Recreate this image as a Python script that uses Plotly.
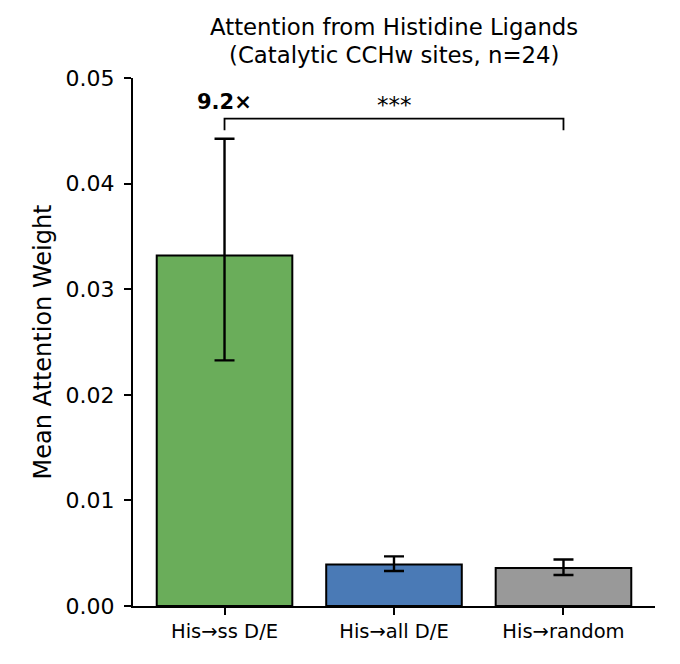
import plotly.graph_objects as go

categories = ["His→ss D/E", "His→all D/E", "His→random"]
means = [0.0332, 0.00394, 0.0036]
errors_plus = [0.01105, 0.00076, 0.00081]
errors_minus = [0.00994, 0.00063, 0.00066]
colors = ["#6aad5a", "#4a7ab6", "#999999"]
y_ticks = [0.0, 0.01, 0.02, 0.03, 0.04, 0.05]
y_tick_labels = ["0.00", "0.01", "0.02", "0.03", "0.04", "0.05"]
title_lines = ["Attention from Histidine Ligands", "(Catalytic CCHw sites, n=24)"]

FONT = "DejaVu Sans"

fig = go.Figure()
fig.add_trace(go.Bar(
    x=categories, y=means,
    marker=dict(color=colors, line=dict(color="black", width=2)),
    width=0.8,
    error_y=dict(type="data", symmetric=False, array=errors_plus, arrayminus=errors_minus,
                 visible=True, color="black", thickness=2.4, width=10),
    showlegend=False,
))

# significance bracket between first and last bars
top = means[0] + errors_plus[0]
br_y = top * 1.043
br_drop = top * 1.018
fig.add_trace(go.Scatter(
    x=[categories[0], categories[0], categories[2], categories[2]],
    y=[br_drop, br_y, br_y, br_drop],
    mode="lines", line=dict(color="black", width=1.8),
    showlegend=False, hoverinfo="skip",
))

ratio = means[0] / means[2]
fig.add_annotation(x=categories[0], y=0.0477, text=f"<b>{ratio:.1f}×</b>",
                   showarrow=False, font=dict(family=FONT, size=21, color="black"))
fig.add_annotation(x=categories[1], y=0.0474, text="***",
                   showarrow=False, font=dict(family=FONT, size=23, color="black"))

# two-line title
fig.add_annotation(xref="paper", yref="paper", x=0.5, y=1.0966, text=title_lines[0],
                   showarrow=False, xanchor="center", yanchor="middle",
                   font=dict(family=FONT, size=22.8, color="black"))
fig.add_annotation(xref="paper", yref="paper", x=0.5, y=1.0445, text=title_lines[1],
                   showarrow=False, xanchor="center", yanchor="middle",
                   font=dict(family=FONT, size=22.8, color="black"))

fig.update_layout(
    width=672, height=656,
    margin=dict(l=125, r=25, t=70, b=58),
    paper_bgcolor="white", plot_bgcolor="white",
    font=dict(family=FONT, color="black"),
)
fig.update_xaxes(
    type="category", range=[-0.54, 2.54],
    showline=True, linecolor="black", linewidth=2,
    ticks="outside", ticklen=7, tickwidth=2, tickcolor="black",
    tickfont=dict(family=FONT, size=19.5, color="black"),
    showgrid=False, zeroline=False,
)
fig.update_yaxes(
    range=[0, 0.05], tickvals=y_ticks, ticktext=y_tick_labels,
    showline=True, linecolor="black", linewidth=2,
    ticks="outside", ticklen=7, tickwidth=2, tickcolor="black",
    ticklabelstandoff=5,
    tickfont=dict(family=FONT, size=22, color="black"),
    title=dict(text="Mean Attention Weight", font=dict(family=FONT, size=24, color="black"),
               standoff=7),
    showgrid=False, zeroline=False,
)

fig.write_html("out.html")
